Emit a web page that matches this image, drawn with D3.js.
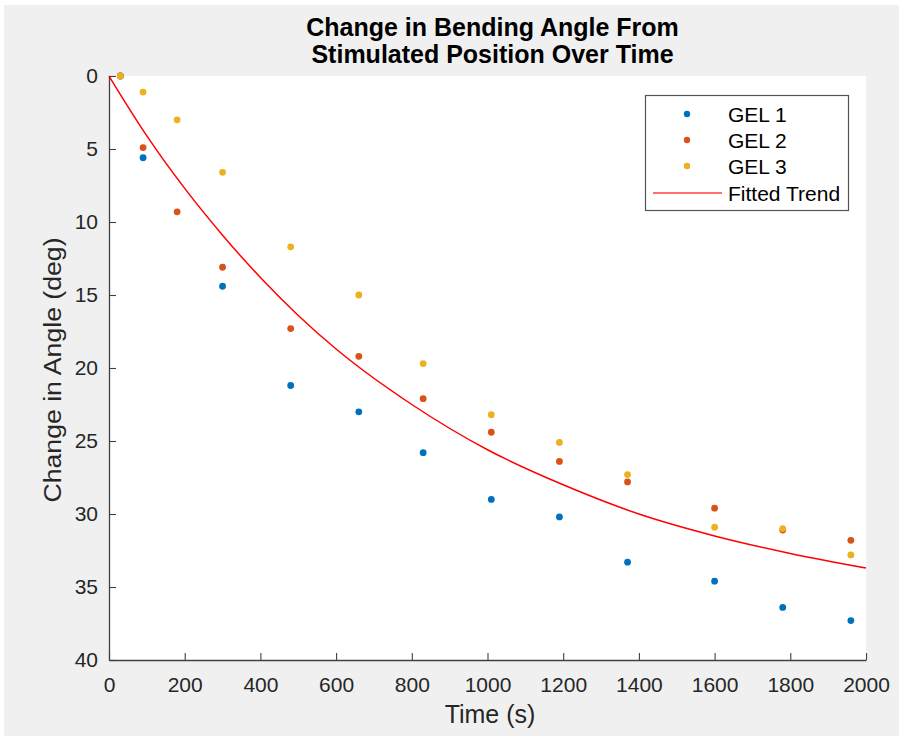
<!DOCTYPE html>
<html>
<head>
<meta charset="utf-8">
<script src="https://cdn.jsdelivr.net/npm/d3@7"></script>
<style>
  html, body { margin: 0; padding: 0; background: #ffffff; }
  svg { display: block; }
  text { font-family: "Liberation Sans", Arial, Helvetica, sans-serif; }
</style>
</head>
<body>
<svg id="chart" width="904" height="738"></svg>
<script>
// ---- data ----
const titleLines = ["Change in Bending Angle From", "Stimulated Position Over Time"];
const xLabel = "Time (s)";
const yLabel = "Change in Angle (deg)";
const timeS = [30, 90, 180, 300, 480, 660, 830, 1010, 1190, 1370, 1600, 1780, 1960];
const gel1 = [0, 5.6, null, 14.4, 21.2, 23.0, 25.8, 29.0, 30.2, 33.3, 34.6, 36.4, 37.3];
const gel2 = [0, 4.9, 9.3, 13.1, 17.3, 19.2, 22.1, 24.4, 26.4, 27.8, 29.6, 31.1, 31.8];
const gel3 = [0, 1.1, 3.0, 6.6, 11.7, 15.0, 19.7, 23.2, 25.1, 27.3, 30.9, 31.0, 32.8];
const trendTime = [0, 100, 200, 300, 400, 500, 600, 800, 1000, 1200, 1400, 1600, 1800, 2000];
const trendAngle = [0, 4.1, 7.7, 10.9, 13.8, 16.4, 18.7, 22.5, 25.6, 28.0, 30.0, 31.5, 32.7, 33.7];
const seriesNames = ["GEL 1", "GEL 2", "GEL 3"];
const seriesColors = ["#0072BD", "#D95319", "#EDB120"];
const trendName = "Fitted Trend";
const trendColor = "#FF0000";
const xTicks = [0, 200, 400, 600, 800, 1000, 1200, 1400, 1600, 1800, 2000];
const yTicks = [0, 5, 10, 15, 20, 25, 30, 35, 40];

// ---- layout ----
const svg = d3.select("#chart");
const L = 109, R = 866, T = 76, B = 660;
const axisColor = "#404040";
const textColor = "#262626";

svg.append("rect").attr("x", 4).attr("y", 5).attr("width", 895).attr("height", 731).attr("fill", "#f0f0f0");
svg.append("rect").attr("x", L).attr("y", T).attr("width", R - L).attr("height", B - T).attr("fill", "#ffffff");

const x = d3.scaleLinear().domain([0, 2000]).range([L, R]);
const y = d3.scaleLinear().domain([0, 40]).range([T, B]);

// axes
const xAxis = d3.axisBottom(x).tickValues(xTicks).tickFormat(d3.format("d"))
  .tickSizeInner(-7).tickSizeOuter(0).tickPadding(17);
const yAxis = d3.axisLeft(y).tickValues(yTicks).tickFormat(d3.format("d"))
  .tickSizeInner(-7).tickSizeOuter(0).tickPadding(11);

const gx = svg.append("g").attr("transform", `translate(0,${B})`).call(xAxis);
const gy = svg.append("g").attr("transform", `translate(${L},0)`).call(yAxis);
[gx, gy].forEach(g => {
  g.select(".domain").attr("stroke", axisColor).attr("stroke-width", 1.3);
  g.selectAll(".tick line").attr("stroke", axisColor).attr("stroke-width", 1.1);
  g.selectAll(".tick text").attr("fill", textColor).style("font-size", "21px")
    .style("font-family", "'Liberation Sans', Arial, sans-serif");
});

// trend line
const line = d3.line().x(d => x(d[0])).y(d => y(d[1])).curve(d3.curveMonotoneX);
svg.append("path")
  .datum(trendTime.map((t, i) => [t, trendAngle[i]]))
  .attr("d", line).attr("fill", "none").attr("stroke", trendColor).attr("stroke-width", 1.5);

// scatter points
[gel1, gel2, gel3].forEach((vals, si) => {
  const pts = timeS.map((t, i) => [t, vals[i]]).filter(d => d[1] !== null);
  svg.append("g").selectAll("circle").data(pts).join("circle")
    .attr("cx", d => x(d[0])).attr("cy", d => y(d[1])).attr("r", 3.4)
    .attr("fill", seriesColors[si]);
});

// title
svg.append("text").attr("x", (L + R) / 2 + 5).attr("y", 36).attr("text-anchor", "middle")
  .attr("fill", "#000").style("font-size", "25px").style("font-weight", "bold").text(titleLines[0]);
svg.append("text").attr("x", (L + R) / 2 + 5).attr("y", 63).attr("text-anchor", "middle")
  .attr("fill", "#000").style("font-size", "25px").style("font-weight", "bold").text(titleLines[1]);

// axis labels
svg.append("text").attr("x", 490).attr("y", 723).attr("text-anchor", "middle")
  .attr("fill", textColor).style("font-size", "25px").text(xLabel);
svg.append("text").attr("transform", `translate(61,370) rotate(-90)`)
  .attr("text-anchor", "middle").attr("fill", textColor).style("font-size", "23px")
  .attr("textLength", 265).attr("lengthAdjust", "spacingAndGlyphs").text(yLabel);

// legend
const lg = svg.append("g");
lg.append("rect").attr("x", 645.5).attr("y", 95.5).attr("width", 203).attr("height", 115)
  .attr("fill", "#ffffff").attr("stroke", "#555").attr("stroke-width", 1.2);
const rowY = [114, 140, 166, 193];
seriesNames.forEach((n, i) => {
  lg.append("circle").attr("cx", 687).attr("cy", rowY[i]).attr("r", 3.2).attr("fill", seriesColors[i]);
  lg.append("text").attr("x", 728).attr("y", rowY[i]).attr("dy", "0.36em").attr("fill", "#000")
    .style("font-size", "21px").text(n);
});
lg.append("line").attr("x1", 653).attr("x2", 722).attr("y1", rowY[3]).attr("y2", rowY[3])
  .attr("stroke", trendColor).attr("stroke-width", 1.5).attr("opacity", 0.75);
lg.append("text").attr("x", 728).attr("y", rowY[3]).attr("dy", "0.36em").attr("fill", "#000")
  .style("font-size", "21px").text(trendName);
</script>
</body>
</html>
